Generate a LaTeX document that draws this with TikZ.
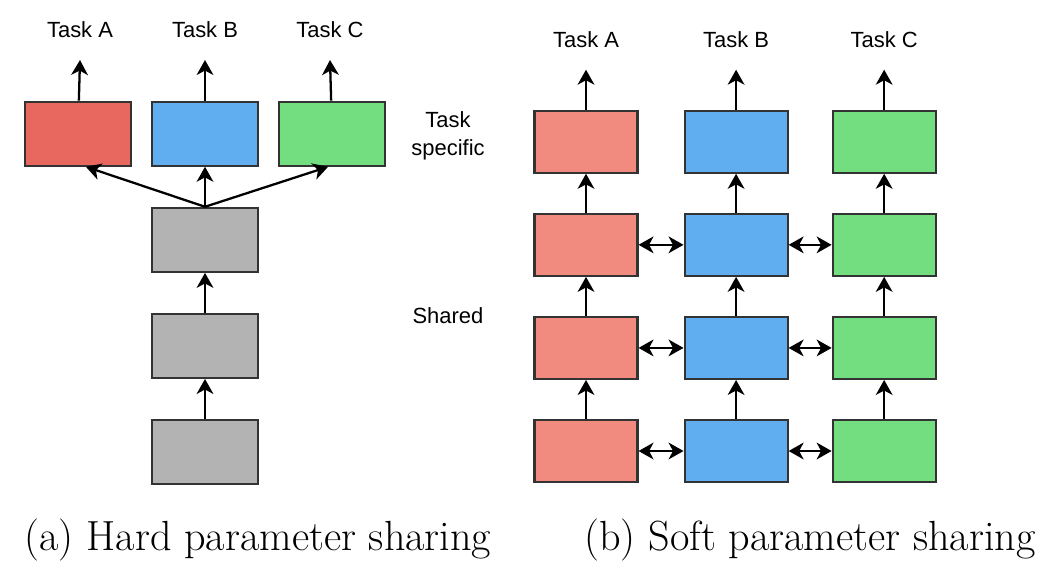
\documentclass[tikz,border=0pt]{standalone}
\usepackage{fontspec}
\setsansfont{Liberation Sans}
\usepackage{tikz}
\usetikzlibrary{positioning,arrows.meta}
\definecolor{hardred}{HTML}{E8675F}
\definecolor{softred}{HTML}{F28B7F}
\definecolor{taskblue}{HTML}{60ADEF}
\definecolor{taskgreen}{HTML}{72DE80}
\definecolor{sharedgray}{HTML}{B3B3B3}
\definecolor{edge}{HTML}{333333}
\tikzstyle{hard} = [rectangle,minimum width=2.12cm,minimum height=1.28cm,draw=edge,line width=1.2pt]
\tikzstyle{soft} = [rectangle,minimum width=2.06cm,minimum height=1.24cm,draw=edge,line width=1.2pt]
\tikzstyle{tasktext} = [font=\sffamily\fontsize{12.5}{16}\selectfont,align=center]
\tikzstyle{caption} = [font=\fontsize{24}{28}\selectfont,anchor=base]
\tikzstyle{arrow} = [line width=1.3pt,-{Stealth[length=8.5pt,width=9.5pt,inset=2.5pt]}]
\tikzstyle{both} = [line width=1.3pt,{Stealth[length=8.5pt,width=9.5pt,inset=2.5pt]}-{Stealth[length=8.5pt,width=9.5pt,inset=2.5pt]}]

\begin{document}
\begin{tikzpicture}[x=0.02cm,y=-0.02cm,node distance=0.78cm]
\useasboundingbox (0,0) rectangle (1047,566);
% (a) hard sharing
\node (gray3) [hard,fill=sharedgray] at (205,452) {};
\node (gray2) [hard,fill=sharedgray,above=0.8cm of gray3] {};
\node (gray1) [hard,fill=sharedgray,above=0.8cm of gray2] {};
\node (hardB) [hard,fill=taskblue,above=0.8cm of gray1] {};
\node (hardA) [hard,fill=hardred,left=0.38cm of hardB] {};
\node (hardC) [hard,fill=taskgreen,right=0.38cm of hardB] {};
\coordinate (tipA) at (80,60);
\coordinate (tipB) at (205,60);
\coordinate (tipC) at (330,60);
\node (taskA) [tasktext,above=0.32cm of tipA] {Task A};
\node (taskB) [tasktext,above=0.32cm of tipB] {Task B};
\node (taskC) [tasktext,above=0.32cm of tipC] {Task C};

\draw [arrow] (gray3) -- (gray2);
\draw [arrow] (gray2) -- (gray1);
\draw [arrow] (gray1.north) -- ([xshift=0.16cm]hardA.south);
\draw [arrow] (gray1.north) -- (hardB.south);
\draw [arrow] (gray1.north) -- ([xshift=-0.08cm]hardC.south);
\draw [arrow] (hardA) -- (tipA);
\draw [arrow] (hardB) -- (tipB);
\draw [arrow] (hardC) -- (tipC);

% (b) soft sharing
\node (softA1) [soft,fill=softred] at (586,451) {};
\node (softA2) [soft,fill=softred,above=of softA1] {};
\node (softA3) [soft,fill=softred,above=of softA2] {};
\node (softA4) [soft,fill=softred,above=of softA3] {};
\node (softB1) [soft,fill=taskblue,right=0.9cm of softA1] {};
\node (softB2) [soft,fill=taskblue,above=of softB1] {};
\node (softB3) [soft,fill=taskblue,above=of softB2] {};
\node (softB4) [soft,fill=taskblue,above=of softB3] {};
\node (softC1) [soft,fill=taskgreen,right=0.86cm of softB1] {};
\node (softC2) [soft,fill=taskgreen,above=of softC1] {};
\node (softC3) [soft,fill=taskgreen,above=of softC2] {};
\node (softC4) [soft,fill=taskgreen,above=of softC3] {};
\coordinate (tipSA) at ([yshift=0.8cm]softA4.north);
\coordinate (tipSB) at ([yshift=0.8cm]softB4.north);
\coordinate (tipSC) at ([yshift=0.8cm]softC4.north);
\node (softtaskA) [tasktext,above=0.32cm of tipSA] {Task A};
\node (softtaskB) [tasktext,above=0.32cm of tipSB] {Task B};
\node (softtaskC) [tasktext,above=0.32cm of tipSC] {Task C};

\node (specific) [tasktext] at (448,136) {Task\\specific};
\node (shared) [tasktext] at (448,316) {Shared};

\draw [arrow] (softA1) -- (softA2);
\draw [arrow] (softA2) -- (softA3);
\draw [arrow] (softA3) -- (softA4);
\draw [arrow] (softB1) -- (softB2);
\draw [arrow] (softB2) -- (softB3);
\draw [arrow] (softB3) -- (softB4);
\draw [arrow] (softC1) -- (softC2);
\draw [arrow] (softC2) -- (softC3);
\draw [arrow] (softC3) -- (softC4);
\draw [arrow] (softA4) -- (tipSA);
\draw [arrow] (softB4) -- (tipSB);
\draw [arrow] (softC4) -- (tipSC);
\draw [both] (softA1) -- (softB1);
\draw [both] (softB1) -- (softC1);
\draw [both] (softA2) -- (softB2);
\draw [both] (softB2) -- (softC2);
\draw [both] (softA3) -- (softB3);
\draw [both] (softB3) -- (softC3);

\node (captionA) [caption] at (258,550) {(a) Hard parameter sharing};
\node (captionB) [caption] at (810,550) {(b) Soft parameter sharing};
\end{tikzpicture}
\end{document}
